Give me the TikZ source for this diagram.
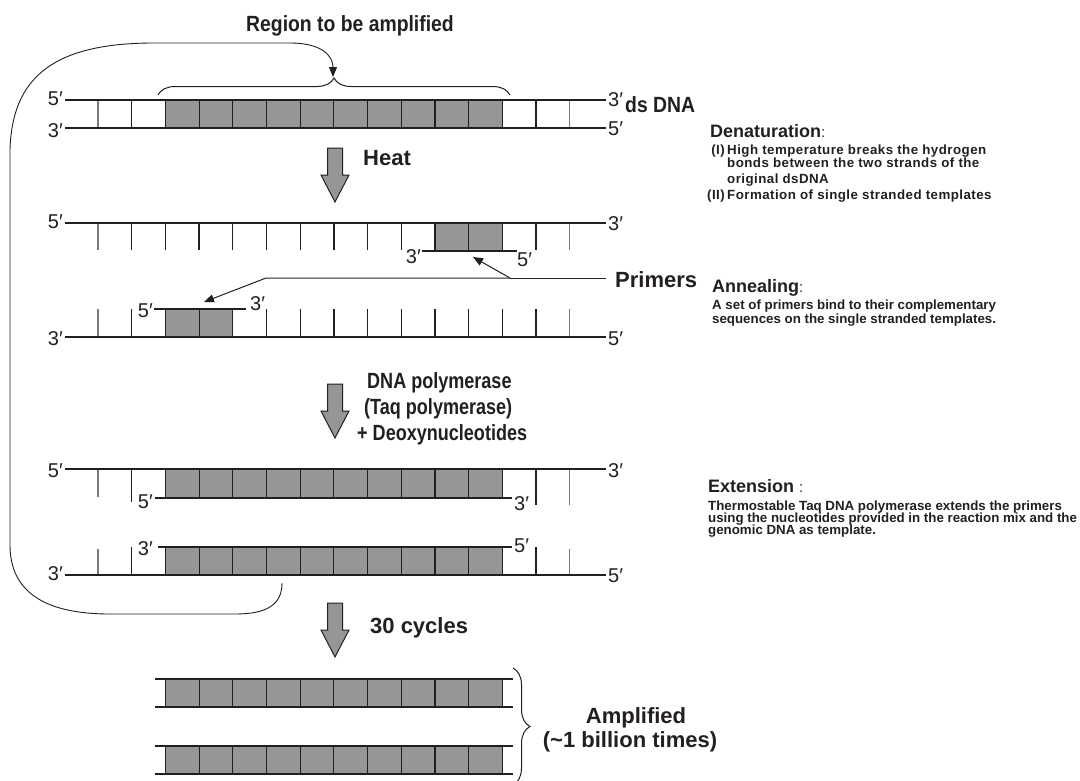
\documentclass[tikz,border=0pt]{standalone}
\usepackage{fontspec}
\setmainfont{Liberation Sans}
\newfontfamily\narrowfont[FakeStretch=0.82]{Liberation Sans}
\newfontfamily\semifont[FakeStretch=0.88]{Liberation Sans}
\newfontfamily\widefont[LetterSpace=3.5]{Liberation Sans}
\usetikzlibrary{decorations.pathreplacing,arrows.meta}
\definecolor{cellgray}{RGB}{150,150,150}
\definecolor{ink}{RGB}{35,31,32}
\newcommand\fsz[1]{\fontsize{#1}{#1}\selectfont}
\newcommand\xk[1]{98+33.7*#1}
\begin{document}
\begin{tikzpicture}[x=1pt,y=-1pt,
  strand/.style={line width=2.2pt, draw=ink},
  rung/.style={line width=1.3pt, draw=ink},
  rungl/.style={line width=1.1pt, draw=ink!60},
  cell/.style={fill=cellgray, draw=ink, line width=1.1pt},
  prime/.style={font=\fsz{20}, inner sep=0pt, text=ink},
  lab/.style={font=\bfseries\fsz{22}, inner sep=0pt, text=ink, anchor=base west},
  labn/.style={lab, font=\narrowfont\bfseries\fsz{22}},
  labs/.style={lab, font=\semifont\bfseries\fsz{22}},
  ttl/.style={font=\bfseries\fsz{18}, inner sep=0pt, text=ink, anchor=base west},
  body/.style={font=\bfseries\fsz{13.3}, inner sep=0pt, text=ink, anchor=base west},
  bodyw/.style={body, font=\widefont\bfseries\fsz{13.3}},
  bigarrow/.style={fill=cellgray, draw=ink, line width=1pt},
  ptr/.style={line width=1pt, draw=ink, -{Triangle[length=10pt,width=8pt]}},
  brc/.style={line width=1pt, draw=ink, decorate, decoration={brace, amplitude=17pt}},
  lp/.style={prime, anchor=base east},
  rp/.style={prime, anchor=base west}]
\useasboundingbox (0,0) rectangle (1080,780);

% ---------- title and loop ----------
\node[labs, anchor=base] (title) at (350,31) {Region to be amplified};
\draw[brc] (158,95) -- (510,95);
\coordinate (bracetip) at (333,77);
\coordinate (loopstart) at (282,583);
\draw[ptr, line width=0.9pt] (loopstart) .. controls (282,604) and (268,614) .. (235,614)
  -- (110,614) .. controls (45,614) and (10,592) .. (10,545) -- (10,150)
  .. controls (12,80) and (50,44) .. (150,43) -- (290,43)
  .. controls (322,43) and (333,56) .. (bracetip);

% ---------- strand 1 : ds DNA ----------
\foreach \k in {2,...,11} \draw[cell] ({\xk{\k}},100) rectangle ({\xk{(\k+1)}},128);
\foreach \k in {1,12,13} \draw[rung] ({\xk{\k}},100) -- ++(0,28);
\foreach \k in {0,14} \draw[rungl] ({\xk{\k}},100) -- ++(0,28);
\draw[strand] (65,100) -- (606,100);
\draw[strand] (65,128) -- (606,128);
\node[lp] (s1a) at (63,105) {5′};
\node[lp] (s1b) at (63,137) {3′};
\node[rp] (s1c) at (608,106) {3′};
\node[rp] (s1d) at (608,135) {5′};
\node[labs] (dsdna) at (625,112) {ds DNA};

% heat arrow
\draw[bigarrow] (327.5,148) -- ++(15,0) -- ++(0,27) -- ++(6.5,0) -- ++(-14,27) -- ++(-14,-27) -- ++(6.5,0) -- cycle;
\node[lab] (heat) at (363,165) {Heat};

% ---------- strand 2 ----------
\foreach \k in {10,11} \draw[cell] ({\xk{\k}},223) rectangle ({\xk{(\k+1)}},251);
\foreach \k in {1,...,9,12,13} \draw[rung] ({\xk{\k}},223) -- ++(0,27);
\foreach \k in {0,14} \draw[rungl] ({\xk{\k}},223) -- ++(0,27);
\draw[strand] (65,223) -- (606,223);
\draw[strand] (422,251) -- (517,251);
\node[lp] (s2a) at (63,228) {5′};
\node[rp] (s2b) at (608,230) {3′};
\node[lp] (p1a) at (421,263) {3′};
\node[rp] (p1b) at (517,266) {5′};

% ---------- strand 3 ----------
\foreach \k in {2,3} \draw[cell] ({\xk{\k}},309) rectangle ({\xk{(\k+1)}},337);
\foreach \k in {1,4,5,...,13} \draw[rung] ({\xk{\k}},309) -- ++(0,28);
\foreach \k in {0,14} \draw[rungl] ({\xk{\k}},309) -- ++(0,28);
\draw[strand] (154,309) -- (246,309);
\draw[strand] (65,337) -- (606,337);
\node[lp] (p2a) at (153,317) {5′};
\node[rp] (p2b) at (250,310) {3′};
\node[lp] (s3a) at (63,345) {3′};
\node[rp] (s3b) at (608,345) {5′};

% primers pointer
\node[lab] (primers) at (615,287) {Primers};
\coordinate (pe) at (606,278);
\coordinate (pj) at (510,278);
\coordinate (pl) at (266,278);
\coordinate (tipU) at (473,257);
\coordinate (tipL) at (204,302);
\draw[line width=1pt, draw=ink] (pe) -- (pj);
\draw[ptr] (pj) -- (pl) -- (tipL);
\draw[ptr] (pj) -- (tipU);

% polymerase arrow
\draw[bigarrow] (327.5,384) -- ++(15,0) -- ++(0,27) -- ++(6.5,0) -- ++(-14,27) -- ++(-14,-27) -- ++(6.5,0) -- cycle;
\node[labn] (pol1) at (367,388) {DNA polymerase};
\node[labn] (pol2) at (364,414) {(Taq polymerase)};
\node[labn] (pol3) at (357,440) {+ Deoxynucleotides};

% ---------- strand 4 ----------
\foreach \k in {2,...,11} \draw[cell] ({\xk{\k}},469) rectangle ({\xk{(\k+1)}},498);
\draw[rungl] ({\xk{0}},469) -- (\xk{0},497);
\draw[rung] ({\xk{1}},469) -- (\xk{1},502);
\draw[rung] ({\xk{13}},469) -- (\xk{13},505);
\draw[rungl] ({\xk{14}},469) -- (\xk{14},505);
\draw[strand] (65,469) -- (606,469);
\draw[strand] (155,498) -- (512,498);
\node[lp] (s4a) at (63,477) {5′};
\node[rp] (s4b) at (608,477) {3′};
\node[lp] (p3a) at (153,508) {5′};
\node[rp] (p3b) at (514,510) {3′};

% ---------- strand 5 ----------
\foreach \k in {2,...,11} \draw[cell] ({\xk{\k}},547) rectangle ({\xk{(\k+1)}},575);
\foreach \k in {1,13} \draw[rung] ({\xk{\k}},547) -- ++(0,28);
\foreach \k in {0,14} \draw[rungl] ({\xk{\k}},549) -- ++(0,26);
\draw[strand] (158,547) -- (512,547);
\draw[strand] (65,575) -- (606,575);
\node[lp] (p4a) at (153,555) {3′};
\node[rp] (p4b) at (514,552) {5′};
\node[lp] (s5a) at (63,580) {3′};
\node[rp] (s5b) at (608,582) {5′};

% right-hand explanations
\node[ttl] (den) at (710,137) {Denaturation{\mdseries\fsz{15}:}};
\node[bodyw, anchor=base east] (d1n) at (725,154) {(I)};
\node[bodyw] (d1) at (727,154) {High temperature breaks the hydrogen};
\node[bodyw] (d2) at (727,167) {bonds between the two strands of the};
\node[bodyw] (d3) at (727,183) {original dsDNA};
\node[bodyw, anchor=base east] (d4n) at (725,199) {(II)};
\node[bodyw] (d4) at (727,199) {Formation of single stranded templates};

\node[ttl] (ann) at (712,292) {Annealing{\mdseries\fsz{15}:}};
\node[body] (a1) at (712,309) {A set of primers bind to their complementary};
\node[body] (a2) at (712,323) {sequences on the single stranded templates.};

\node[ttl] (ext) at (708,492) {Extension {\mdseries\fsz{15}:}};
\node[body] (e1) at (708,510) {Thermostable Taq DNA polymerase extends the primers};
\node[body] (e2) at (708,522) {using the nucleotides provided in the reaction mix and the};
\node[body] (e3) at (708,534) {genomic DNA as template.};

% 30 cycles arrow
\draw[bigarrow] (327.5,603) -- ++(15,0) -- ++(0,27) -- ++(6.5,0) -- ++(-14,27) -- ++(-14,-27) -- ++(6.5,0) -- cycle;
\node[lab] (cyc) at (370,633) {30 cycles};

% ---------- amplified products ----------
\foreach \y in {679,746} {
  \foreach \k in {2,...,11} \draw[cell] ({\xk{\k}},\y) rectangle ({\xk{(\k+1)}},\y+28);
  \draw[strand] (155,\y) -- (513,\y);
  \draw[strand] (155,\y+28) -- (513,\y+28);
}
\draw[brc] (513,668) -- (513,785);
\node[lab, anchor=base] (amp1) at (636,723) {Amplified};
\node[lab, anchor=base] (amp2) at (630,747) {(\textasciitilde 1 billion times)};
\end{tikzpicture}
\end{document}
